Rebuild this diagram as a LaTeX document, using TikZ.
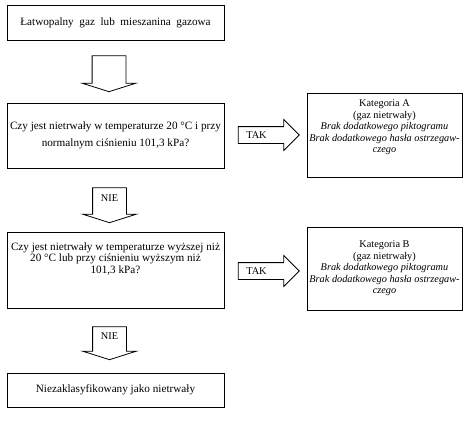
\documentclass[tikz,border=0pt]{standalone}
\usepackage{fontspec}
\setmainfont{Liberation Serif}
\usetikzlibrary{shapes.arrows}
\usetikzlibrary{positioning}

\begin{document}
\begin{tikzpicture}[
                x = 1pt, y = -1pt,
                every node/.style = {font = \fontsize{10.3}{11.5}\selectfont},
                box/.style = {draw, line width = 0.8pt, align = center,
                              minimum width = 217pt, inner sep = 2pt,
                              font = \fontsize{11.2}{11.5}\selectfont},
                info/.style = {draw, line width = 0.8pt, align = center,
                               minimum width = 155pt, inner sep = 2pt},
                downarrow/.style = {draw, line width = 0.8pt, single arrow,
                              shape border rotate = 270,
                              single arrow head extend = 10pt,
                              single arrow tip angle = 145,
                              single arrow head indent = 0pt,
                              minimum height = 35pt, text width = 25pt,
                              text depth = 9pt,
                              inner xsep = 4pt, align = center},
                takarrow/.style = {draw, line width = 0.8pt, single arrow,
                              single arrow head extend = 7pt,
                              single arrow tip angle = 90,
                              single arrow head indent = 0pt,
                              minimum height = 61pt, text height = 7pt,
                              text depth = 1pt, inner ysep = 4pt}
                ]
  \useasboundingbox (0,0) rectangle (470,423);

  % Main column
  \node[box, minimum height = 35pt] (start) at (115.5,22.5)
        {Łatwopalny \ gaz \ lub \ mieszanina \ gazowa};
  \node[downarrow, minimum height = 36pt] (a0) at (109,71) {};
  \node[box, minimum height = 65pt] (q1) at (115.5,135.5)
        {Czy jest nietrwały w temperaturze 20~°C i przy\\[5pt]
         normalnym ciśnieniu 101,3 kPa?};
  \node[downarrow] (nie1) at (109.5,202.5) {NIE};
  \node[box, minimum height = 76pt, text depth = 24pt] (q2) at (115.5,270)
        {Czy jest nietrwały w temperaturze wyższej niż\\
         20~°C lub przy ciśnieniu wyższym niż\\
         101,3 kPa?};
  \node[downarrow, minimum height = 33pt] (nie2) at (109.5,340.5) {NIE};
  \node[box, minimum height = 34pt] (res) at (115.5,390)
        {Niezaklasyfikowany jako nietrwały};

  % Answers TAK
  \node[takarrow] (tak1) at (264.5,135) {TAK\hspace*{16pt}};
  \node[info, minimum height = 84pt, text depth = 17pt] (katA) at (384.5,135)
        {Kategoria A\\(gaz nietrwały)\\
         \textit{Brak dodatkowego piktogramu}\\
         \textit{Brak dodatkowego hasła ostrzegaw-}\\
         \textit{czego}};
  \node[takarrow] (tak2) at (264.5,271) {TAK\hspace*{16pt}};
  \node[info, minimum height = 83pt] (katB) at (384.5,268.5)
        {Kategoria B\\(gaz nietrwały)\\
         \textit{Brak dodatkowego piktogramu}\\
         \textit{Brak dodatkowego hasła ostrzegaw-}\\
         \textit{czego}};
\end{tikzpicture}
\end{document}
